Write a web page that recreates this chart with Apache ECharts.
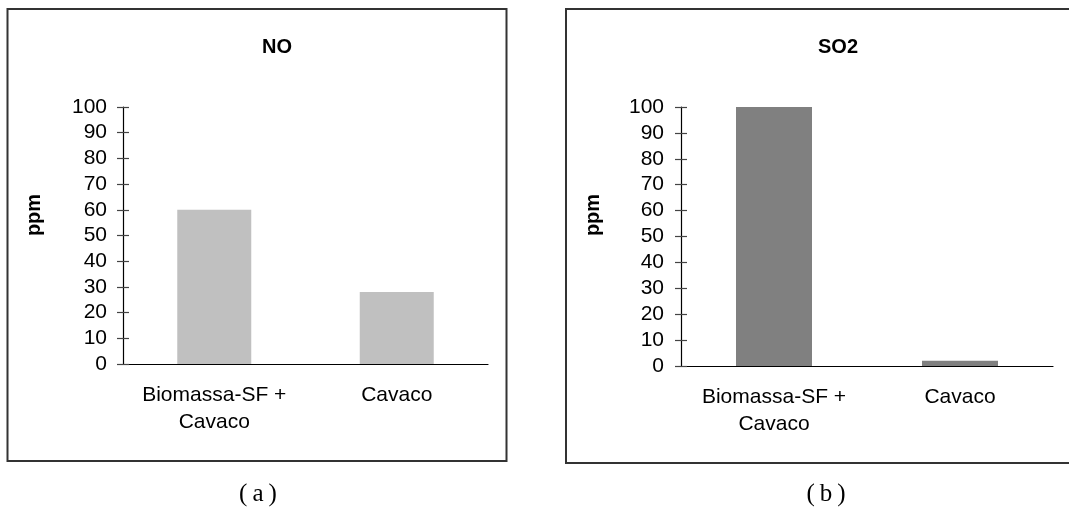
<!DOCTYPE html>
<html>
<head>
<meta charset="utf-8">
<script src="https://cdn.jsdelivr.net/npm/echarts@6/dist/echarts.min.js"></script>
<style>
html,body{margin:0;padding:0;background:#fff;}
#c{width:1069px;height:508px;}
</style>
</head>
<body>
<div id="c"></div>
<script>
const categories = ['Biomassa-SF +\nCavaco', 'Cavaco'];
const noValues = [60, 28];
const so2Values = [100, 2];
const titles = ['NO', 'SO2'];
const captions = ['(\u2009a\u2009)', '(\u2009b\u2009)'];
const yName = 'ppm';

const chart = echarts.init(document.getElementById('c'), null, {renderer: 'canvas'});
const FONT = '"Liberation Sans", Arial, sans-serif';

function mainY(gridIndex, margin) {
  return {
    type: 'value', gridIndex: gridIndex, position: 'left', min: 0, max: 100, interval: 10,
    splitLine: {show: false},
    axisLine: {show: true, lineStyle: {color: '#000', width: 1.2}},
    axisTick: {show: true, inside: false, length: 6, lineStyle: {color: '#444', width: 1.2}},
    axisLabel: {show: true, margin: margin, color: '#000', fontSize: 21, fontFamily: FONT}
  };
}
function overlayY(gridIndex) {
  return {
    type: 'value', gridIndex: gridIndex, position: 'left', min: 0, max: 100, interval: 10,
    splitLine: {show: false},
    axisLine: {show: false},
    axisTick: {show: true, inside: true, length: 6, lineStyle: {color: '#444', width: 1.2}},
    axisLabel: {show: false}
  };
}
function catX(gridIndex) {
  return {
    type: 'category', gridIndex: gridIndex, data: categories,
    axisLine: {show: true, lineStyle: {color: '#000', width: 1.2}},
    axisTick: {show: false},
    axisLabel: {margin: 18, color: '#000', fontSize: 21, lineHeight: 27, fontFamily: FONT, interval: 0}
  };
}
function txt(x, y, text, opts) {
  return {
    type: 'text', x: x, y: y,
    style: Object.assign({text: text, fill: '#000', align: 'center', verticalAlign: 'middle', font: 'bold 20px ' + FONT}, opts || {})
  };
}

const graphics = [
  {type: 'rect', shape: {x: 7.5, y: 9, width: 499, height: 452}, style: {fill: null, stroke: '#333', lineWidth: 2}, z: -1},
  {type: 'rect', shape: {x: 566, y: 9, width: 530, height: 454}, style: {fill: null, stroke: '#333', lineWidth: 2}, z: -1},
  txt(277, 47, titles[0]),
  txt(838, 47, titles[1]),
  {type: 'text', x: 34, y: 215, rotation: Math.PI / 2, style: {text: yName, fill: '#000', align: 'center', verticalAlign: 'middle', font: 'bold 20px ' + FONT}},
  {type: 'text', x: 593, y: 215, rotation: Math.PI / 2, style: {text: yName, fill: '#000', align: 'center', verticalAlign: 'middle', font: 'bold 20px ' + FONT}},
  txt(258, 494, captions[0], {font: '25px "Liberation Serif", "Times New Roman", serif'}),
  txt(826, 494, captions[1], {font: '25px "Liberation Serif", "Times New Roman", serif'})
];

chart.setOption({
  animation: false,
  backgroundColor: '#fff',
  grid: [
    {left: 123, top: 107, width: 365, height: 257},
    {left: 681, top: 107, width: 372, height: 259}
  ],
  xAxis: [catX(0), catX(1)],
  yAxis: [mainY(0, 16), overlayY(0), mainY(1, 17), overlayY(1)],
  series: [
    {type: 'bar', xAxisIndex: 0, yAxisIndex: 0, data: noValues, barWidth: 74, itemStyle: {color: '#C0C0C0'}},
    {type: 'bar', xAxisIndex: 1, yAxisIndex: 2, data: so2Values, barWidth: 76, itemStyle: {color: '#808080'}}
  ],
  graphic: graphics
});
</script>
</body>
</html>
